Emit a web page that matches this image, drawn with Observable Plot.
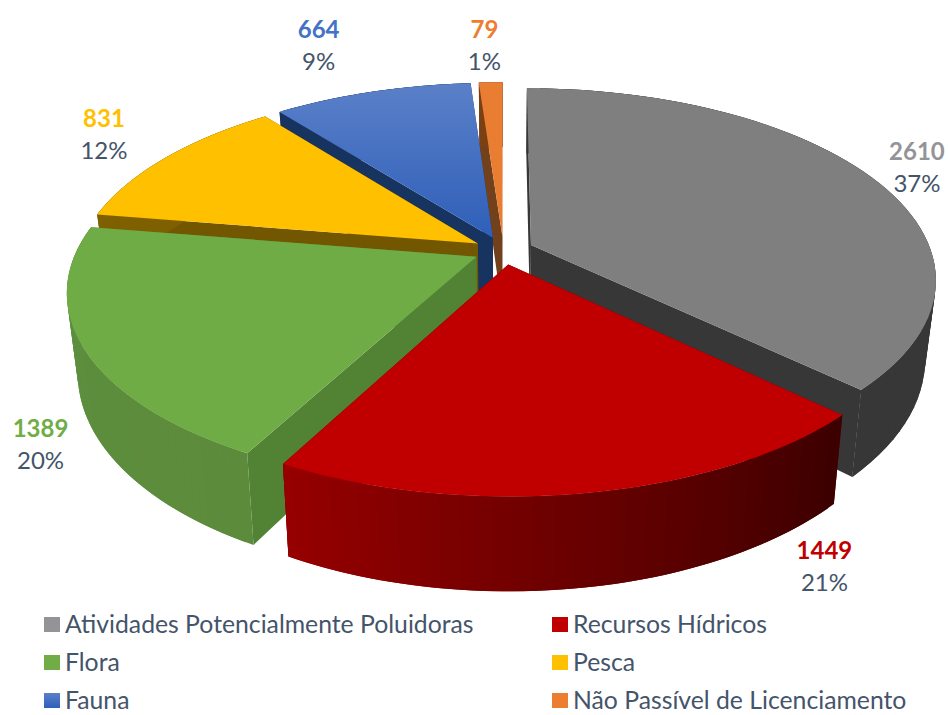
<!DOCTYPE html>
<html lang="pt">
<head>
<meta charset="utf-8">
<script src="https://cdn.jsdelivr.net/npm/d3@7"></script>
<script src="https://cdn.jsdelivr.net/npm/@observablehq/plot@0.6"></script>
<style>
  html, body { margin: 0; padding: 0; background: #fff; }
  svg { display: block; }
  #legend {
    display: grid; grid-template-columns: 508px auto; row-gap: 18px;
    padding-left: 44px; font: 24.75px Lato, sans-serif; color: #44546a; line-height: 20px;
  }
  #legend div { display: flex; align-items: center; white-space: nowrap; }
  #legend i { display: inline-block; width: 16px; height: 15px; margin-right: 5px; }
</style>
</head>
<body>
<script>
// ---- data ----
const categories = ["Atividades Potencialmente Poluidoras", "Recursos Hídricos", "Flora", "Pesca", "Fauna", "Não Passível de Licenciamento"];
const values = [2610, 1449, 1389, 831, 664, 79];
const topColors = ["#7f7f7f", "#c00000", "#6fac46", "#ffc000", "url(#blueTop)", "#e97e33"];
const labelColors = ["#949498", "#c00000", "#70ad47", "#ffc000", "#4472c4", "#ed7d31"];
const wallStops = [["#373737", "#373737"], ["#3c0000", "#680000", "#960000"], ["#5c8b3b", "#5c9040"], ["#7f6000", "#7f6000"], ["#17335f", "#17335f"], ["#7c4015", "#7c4015"]];
const faceColors = ["#373737", "#5a0000", "#528234", "#735600", "#17335f", "#73401c"];
const legendColors = ["#949498", "#c00000", "#70ad47", "#ffc000", "linear-gradient(#5a80c8,#2f5fb9)", "#ed7d31"];
const labelU = [1.12, 0.618, -0.978, -1.12, -0.572, -0.059];
const labelV = [0.478, -1.313, -0.886, 0.693, 1.358, 1.358];

// ---- projection of the pie plane ----
const cx = 503, cy = 250, R = 400, Rb = 186, k = 0.175, explode = 0.075, depth = 77, taper = 0.025;
const total = d3.sum(values);
const fmtPct = d3.format(".0%");
const project = (u, v, low = false) => {
  const s = 1 / (1 + k * v);
  const x = cx + R * u * s * (low ? 1 - taper : 1);
  const y = cy - Rb * v * s + (low ? depth * s : 0);
  return {x, y};
};
let acc = 0;
const slices = values.map((value, i) => {
  const a0 = acc / total * 2 * Math.PI;
  acc += value;
  const a1 = acc / total * 2 * Math.PI;
  const mid = (a0 + a1) / 2;
  const ou = explode * Math.sin(mid), ov = explode * Math.cos(mid);
  const angles = d3.range(0, 61).map(j => a0 + (a1 - a0) * j / 60);
  const rim = angles.map(a => [ou + Math.sin(a), ov + Math.cos(a)]);
  return {i, value, ou, ov, rim};
});
const up = ([u, v]) => project(u, v), dn = ([u, v]) => project(u, v, true);
const polygon = (pts, fill) => Plot.line(pts, {x: "x", y: "y", fill, stroke: "none", curve: "linear"});
const sliceMarks = s => {
  const tip = [s.ou, s.ov];
  const first = s.rim[0], last = s.rim[s.rim.length - 1];
  const quad = (a, b) => [up(a), up(b), dn(b), dn(a)];
  const shade = d3.piecewise(d3.interpolateRgb, wallStops[s.i]);
  const n = s.rim.length;
  // each strip overlaps the next one, so that no seam shows between them
  const ribbon = d3.range(n - 1).flatMap(q =>
    quad(s.rim[q], s.rim[Math.min(q + 2, n - 1)]).map(p => ({...p, q, shade: d3.color(shade(q / (n - 2))).formatHex()})));
  return [
    polygon(quad(tip, first), faceColors[s.i]),
    polygon(quad(tip, last), faceColors[s.i]),
    Plot.line(ribbon, {x: "x", y: "y", z: "q", fill: "shade", stroke: "none", curve: "linear"}),
    polygon([up(tip), ...s.rim.map(up)], topColors[s.i])
  ];
};
const drawOrder = [0, 5, 4, 3, 2, 1];
const labels = slices.map(s => ({
  ...project(labelU[s.i], labelV[s.i]),
  value: String(s.value),
  pct: fmtPct(s.value / total),
  color: labelColors[s.i]
}));
const defs = () => {
  const d = d3.create("svg:defs");
  const g = d.append("linearGradient").attr("id", "blueTop")
    .attr("x1", 0).attr("y1", 0).attr("x2", 0).attr("y2", 1);
  [[0, "#5a80c8"], [1, "#2f5fb9"]].forEach(([o, c]) => g.append("stop").attr("offset", o).attr("stop-color", c));
  return d.node();
};
const chart = Plot.plot({
  width: 950, height: 614, margin: 0,
  x: {domain: [0, 950], axis: null},
  y: {domain: [614, 0], axis: null},
  color: {type: "identity"},
  style: {background: "#fff", fontFamily: "Lato, sans-serif"},
  marks: [
    defs,
    ...drawOrder.flatMap(i => sliceMarks(slices[i])),
    Plot.text(labels, {x: "x", y: "y", text: "value", fill: "color", fontSize: 24, fontWeight: 700, dy: -16}),
    Plot.text(labels, {x: "x", y: "y", text: "pct", fill: "#44546a", fontSize: 24, dy: 16})
  ]
});
document.body.append(chart);
const legend = document.createElement("div");
legend.id = "legend";
categories.forEach((name, i) => {
  const row = document.createElement("div");
  const sw = document.createElement("i");
  sw.style.background = legendColors[i];
  row.append(sw, document.createTextNode(name));
  legend.append(row);
});
document.body.append(legend);
</script>
</body>
</html>
